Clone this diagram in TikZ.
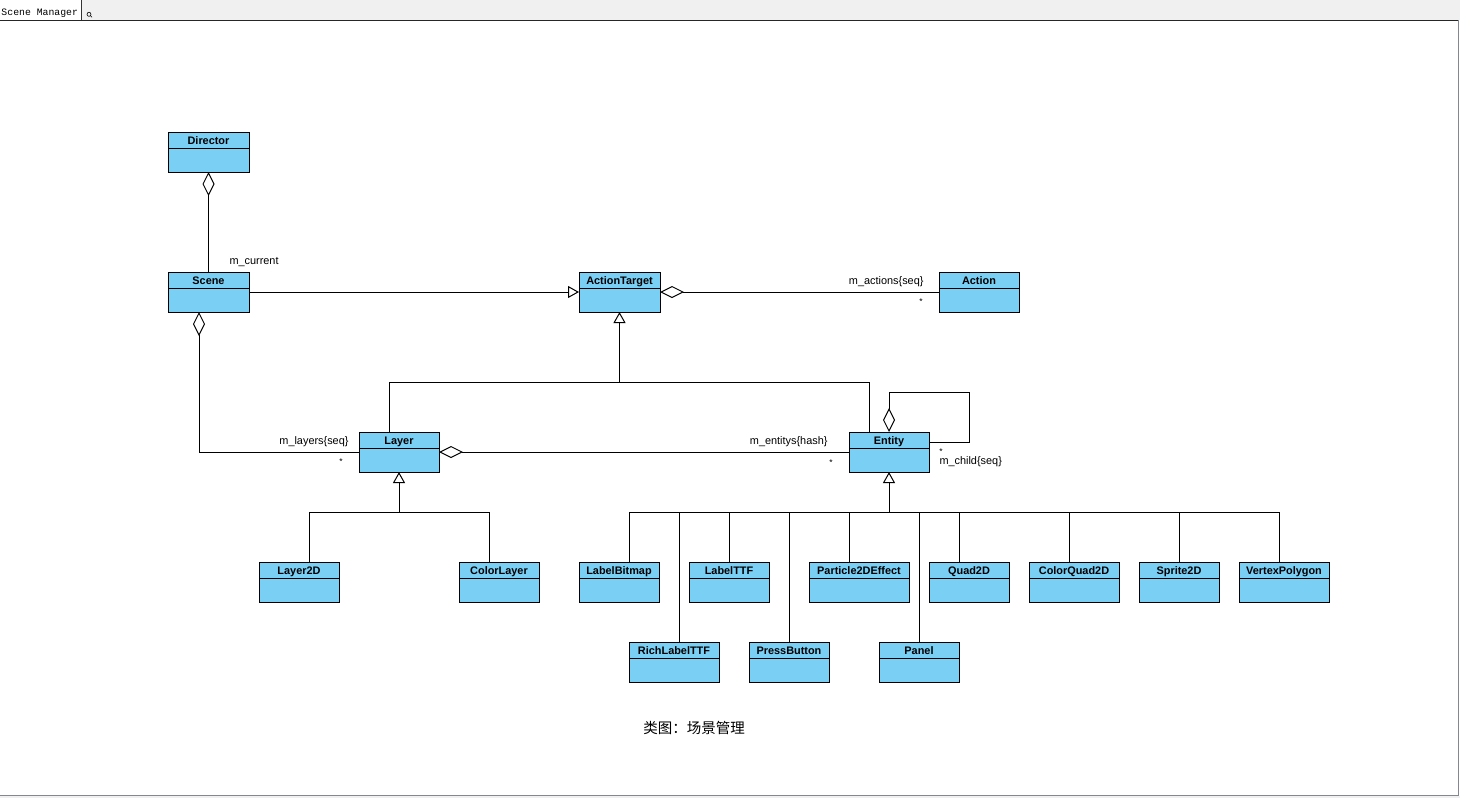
\documentclass[tikz,border=0pt]{standalone}
\usepackage{fontspec}
\setmainfont{Liberation Sans}
\setmonofont{Liberation Mono}
\newfontfamily\cjkfont{Noto Sans CJK SC}
\usetikzlibrary{arrows.meta}
\definecolor{clsfill}{RGB}{122,207,245}
\definecolor{barbg}{RGB}{240,240,240}
\definecolor{frameline}{RGB}{130,135,144}

% class box: name, left, top, width, title
\newcommand\umlclass[5]{%
  \node[cls, minimum width=#4pt] (#1) at (#2,#3) {};
  \draw ([yshift=-16pt]#1.north west) -- ([yshift=-16pt]#1.north east);
  \node[clsname, anchor=base] at ([yshift=-12.5pt]#1.north) {#5};
}

\begin{document}
\begin{tikzpicture}[x=1pt,y=-1pt,line width=1pt,
  cls/.style={draw, fill=clsfill, rectangle, inner sep=0pt, outer sep=0pt,
              minimum height=40pt, anchor=north west},
  clsname/.style={font=\bfseries\fontsize{10.9}{12}\selectfont, inner sep=0pt},
  lbl/.style={font=\fontsize{10.9}{12}\selectfont, inner sep=0pt},
  mult/.style={font=\fontsize{8.5}{10}\selectfont, inner sep=0pt, anchor=base},
  agg/.style={{Diamond[open,length=24pt,width=12pt]}-},
  gen/.style={-{Triangle[open,length=11pt,width=12pt]}},
]
\useasboundingbox (0,0) rectangle (1460,798);

% window frame and tab bar
\fill[white] (0,0) rectangle (1460,798);
\fill[barbg] (0,0) rectangle (1460,20);
\fill[barbg] (0,796) rectangle (1460,798);
\fill[white] (0,0) rectangle (81,20);
\draw[line width=0.8pt, black!80] (81.5,0) -- (81.5,20);
\node[font=\ttfamily\fontsize{9.8}{11}\selectfont, inner sep=0pt, anchor=base west] (tab) at (1,15) {Scene Manager};
\draw[line width=0.6pt] (89,14.3) circle (2);
\draw[line width=0.6pt] (90.4,15.7) -- (92,17.3);
\draw[line width=1.6pt, black!85] (0,20.5) -- (1458.5,20.5);
\draw[line width=1.5pt, frameline] (1458.5,20) -- (1458.5,795.5) -- (0,795.5);

% classes
\umlclass{director}{168}{132}{81}{Director}
\umlclass{scene}{168}{272}{81}{Scene}
\umlclass{at}{579}{272}{81}{ActionTarget}
\umlclass{action}{939}{272}{80}{Action}
\umlclass{layer}{359}{432}{80}{Layer}
\umlclass{entity}{849}{432}{80}{Entity}
\umlclass{layertwod}{259}{562}{80}{Layer2D}
\umlclass{colorlayer}{459}{562}{80}{ColorLayer}
\umlclass{lbm}{579}{562}{80}{LabelBitmap}
\umlclass{lttf}{689}{562}{80}{LabelTTF}
\umlclass{particle}{809}{562}{100}{Particle2DEffect}
\umlclass{quad}{929}{562}{80}{Quad2D}
\umlclass{cquad}{1029}{562}{90}{ColorQuad2D}
\umlclass{sprite}{1139}{562}{80}{Sprite2D}
\umlclass{vpoly}{1239}{562}{90}{VertexPolygon}
\umlclass{rlttf}{629}{642}{90}{RichLabelTTF}
\umlclass{pbtn}{749}{642}{80}{PressButton}
\umlclass{panel}{879}{642}{80}{Panel}

% junction points
\coordinate (y382) at (0,382);
\coordinate (y512) at (0,512);
\coordinate (atb) at (at.south |- y382);
\coordinate (lbus) at (layer.south |- y512);
\coordinate (ebus) at (entity.south |- y512);

% Director owns the current Scene
\draw[agg] (director.south) -- (scene.north);
\node[lbl, anchor=base west] at (229,264.5) {m\_current};

% Scene is an ActionTarget
\draw[gen] (scene.east) -- (at.west);

% ActionTarget holds its actions
\draw[agg] (at.east) -- (action.west);
\node[lbl, anchor=base east] at (924,284) {m\_actions\{seq\}};
\node[mult] at (921,304) {*};

% Layer and Entity are ActionTargets
\draw ([xshift=-10pt]layer.north) |- (atb);
\draw ([xshift=-20pt]entity.north) |- (atb);
\draw[gen] (atb) -- (at.south);

% Scene holds its layers
\draw[agg] ([xshift=-9.5pt]scene.south) |- (layer.west);
\node[lbl, anchor=base east] at (349,444) {m\_layers\{seq\}};
\node[mult] at (341,464) {*};

% Layer holds its entities
\draw[agg] (layer.east) -- (entity.west);
\node[lbl, anchor=base east] at (828,444) {m\_entitys\{hash\}};
\node[mult] at (831,465) {*};

% Entity holds child entities
\draw[agg] (entity.north) -- ++(0,-40) -| ++(80,50) -- ([yshift=10pt]entity.east);
\node[mult] at (941,454) {*};
\node[lbl, anchor=base west] at (939,464.5) {m\_child\{seq\}};

% Layer subclasses
\draw ([xshift=10pt]layertwod.north) |- (lbus);
\draw ([xshift=-10pt]colorlayer.north) |- (lbus);
\draw[gen] (lbus) -- (layer.south);

% Entity subclasses
\draw ([xshift=10pt]lbm.north) |- (ebus);
\draw ([xshift=5pt]rlttf.north) |- (ebus);
\draw (lttf.north) |- (ebus);
\draw (pbtn.north) |- (ebus);
\draw ([xshift=-10pt]particle.north) |- (ebus);
\draw (panel.north) |- (ebus);
\draw ([xshift=-10pt]quad.north) |- (ebus);
\draw ([xshift=-5pt]cquad.north) |- (ebus);
\draw (sprite.north) |- (ebus);
\draw ([xshift=-5pt]vpoly.north) |- (ebus);
\draw[gen] (ebus) -- (entity.south);

% caption
\node[font=\cjkfont\fontsize{14.5}{16}\selectfont, inner sep=0pt] (caption) at (694,727.5) {类图：场景管理};
\end{tikzpicture}
\end{document}
